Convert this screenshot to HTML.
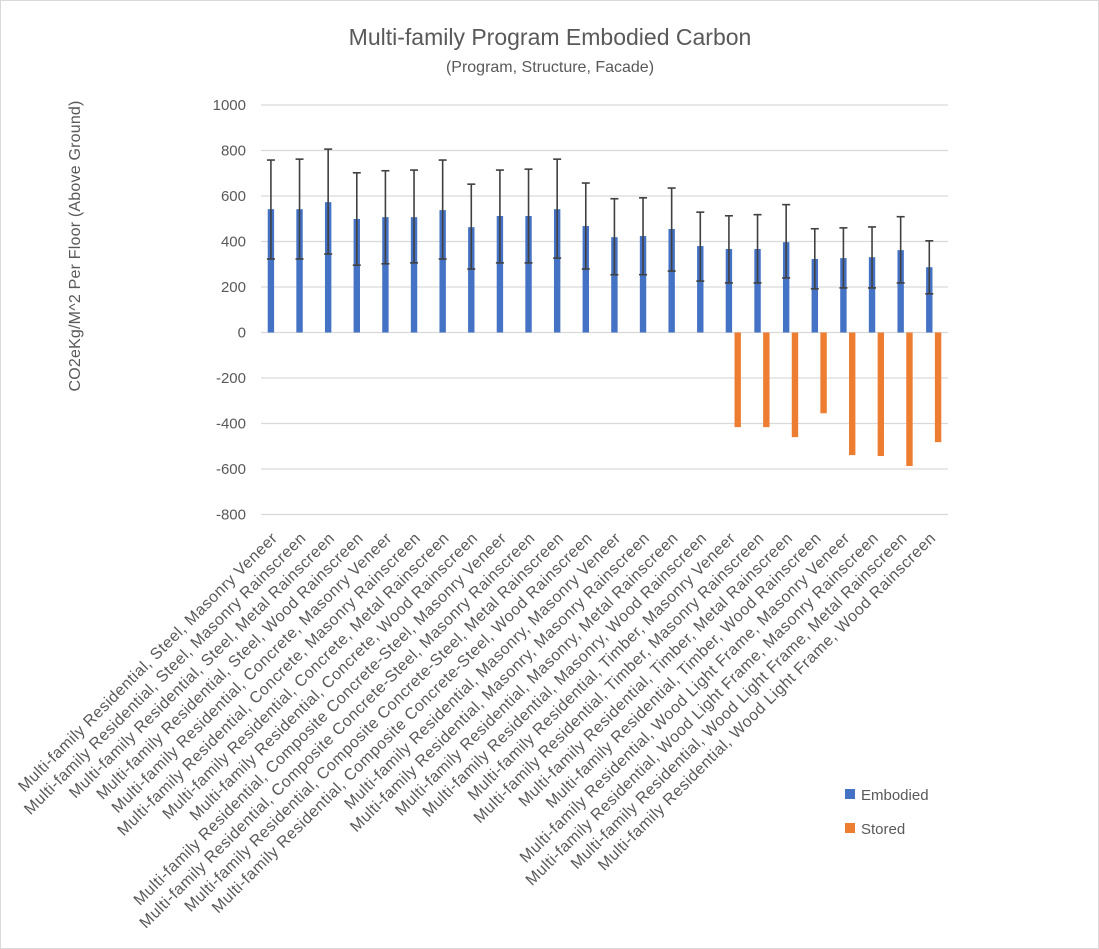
<!DOCTYPE html>
<html><head><meta charset="utf-8"><style>
body{margin:0;background:#fff}
svg{display:block;font-family:"Liberation Sans",sans-serif}
</style></head><body>
<svg id="chart" width="1099" height="949" viewBox="0 0 1099 949">
<rect x="0.5" y="0.5" width="1098" height="948" fill="#fff" stroke="#d9d9d9"/>
<text x="550" y="45" text-anchor="middle" font-size="23" fill="#595959">Multi-family Program Embodied Carbon</text>
<text x="550" y="72" text-anchor="middle" font-size="16" fill="#595959">(Program, Structure, Facade)</text>
<text transform="translate(80,246) rotate(-90)" text-anchor="middle" font-size="16" letter-spacing="0.2" fill="#595959">CO2eKg/M^2 Per Floor (Above Ground)</text>
<g id="grid"></g><g id="bars"></g><g id="errs"></g><g id="ylabels"></g><g id="xlabels"></g>
<g>
<rect x="845" y="789" width="10" height="10" fill="#4472c4"/>
<text x="861" y="800" font-size="15" fill="#595959">Embodied</text>
<rect x="845" y="823" width="10" height="10" fill="#ed7d31"/>
<text x="861" y="834" font-size="15" fill="#595959">Stored</text>
</g>
</svg>
<script>
const categories=["Multi-family Residential, Steel, Masonry Veneer","Multi-family Residential, Steel, Masonry Rainscreen","Multi-family Residential, Steel, Metal Rainscreen","Multi-family Residential, Steel, Wood Rainscreen","Multi-family Residential, Concrete, Masonry Veneer","Multi-family Residential, Concrete, Masonry Rainscreen","Multi-family Residential, Concrete, Metal Rainscreen","Multi-family Residential, Concrete, Wood Rainscreen","Multi-family Residential, Composite Concrete-Steel, Masonry Veneer","Multi-family Residential, Composite Concrete-Steel, Masonry Rainscreen","Multi-family Residential, Composite Concrete-Steel, Metal Rainscreen","Multi-family Residential, Composite Concrete-Steel, Wood Rainscreen","Multi-family Residential, Masonry, Masonry Veneer","Multi-family Residential, Masonry, Masonry Rainscreen","Multi-family Residential, Masonry, Metal Rainscreen","Multi-family Residential, Masonry, Wood Rainscreen","Multi-family Residential, Timber, Masonry Veneer","Multi-family Residential, Timber, Masonry Rainscreen","Multi-family Residential, Timber, Metal Rainscreen","Multi-family Residential, Timber, Wood Rainscreen","Multi-family Residential, Wood Light Frame, Masonry Veneer","Multi-family Residential, Wood Light Frame, Masonry Rainscreen","Multi-family Residential, Wood Light Frame, Metal Rainscreen","Multi-family Residential, Wood Light Frame, Wood Rainscreen"];
const embodied=[542,542,573,499,507,507,538,463,512,512,542,468,419,424,455,380,367,367,397,323,327,331,362,287];
const errHigh=[758,762,806,702,711,714,758,652,714,718,762,657,588,592,635,529,513,518,562,456,460,464,509,403];
const errLow=[323,323,345,296,302,306,323,279,306,306,327,279,254,254,270,226,218,218,240,192,196,196,218,170];
const stored=[0,0,0,0,0,0,0,0,0,0,0,0,0,0,0,0,-416,-416,-460,-355,-539,-543,-587,-482];
const yTicks=[1000,800,600,400,200,0,-200,-400,-600,-800];
const NS="http://www.w3.org/2000/svg";
const X0=261,X1=948,Y0=332.5,PX=0.2275;
const bw=(X1-X0)/categories.length;
function y(v){return Y0-v*PX;}
function cx(i){return X0+bw*(i+0.5);}
function mk(tag,attrs,parent){const e=document.createElementNS(NS,tag);for(const k in attrs)e.setAttribute(k,attrs[k]);document.getElementById(parent).appendChild(e);return e;}
yTicks.forEach((t,i)=>{
  const l=mk('line',{x1:X0,x2:X1,y1:y(t),y2:y(t),stroke:'#d9d9d9','stroke-width':1.3},'grid');
  
  
  const tx=mk('text',{x:246,y:y(t)+5,'text-anchor':'end','font-size':15,fill:'#595959'},'ylabels');
  tx.textContent=t;
  
  
});
const W=6.4;
categories.forEach((c,i)=>{
  const xe=cx(i)-4.4, xs=cx(i)+4.4;
  const v=embodied[i];
  const b=mk('rect',{x:xe-W/2,y:Math.min(y(v),Y0),width:W,height:Math.abs(y(v)-Y0),fill:'#4472c4'},'bars');
  
  
  if(stored[i]!==0){
    const s=stored[i];
    const r=mk('rect',{x:xs-W/2,y:Math.min(y(s),Y0),width:W,height:Math.abs(y(s)-Y0),fill:'#ed7d31'},'bars');
    
    
  }
  const g=mk('g',{stroke:'#404040','stroke-width':1.6},'errs');
  
  
  const yh=y(errHigh[i]),yl=y(errLow[i]);
  [[xe,yh,xe,yl],[xe-4,yh,xe+4,yh],[xe-4,yl,xe+4,yl]].forEach(p=>{
    const l=document.createElementNS(NS,'line');
    l.setAttribute('x1',p[0]);l.setAttribute('y1',p[1]);l.setAttribute('x2',p[2]);l.setAttribute('y2',p[3]);
    g.appendChild(l);
  });
  const t=mk('text',{transform:`translate(${cx(i)+3},${539}) rotate(-45)`,'text-anchor':'end','font-size':16,'letter-spacing':0.5,fill:'#595959'},'xlabels');
  t.textContent=c;
  
  
});
</script>
</body></html>
